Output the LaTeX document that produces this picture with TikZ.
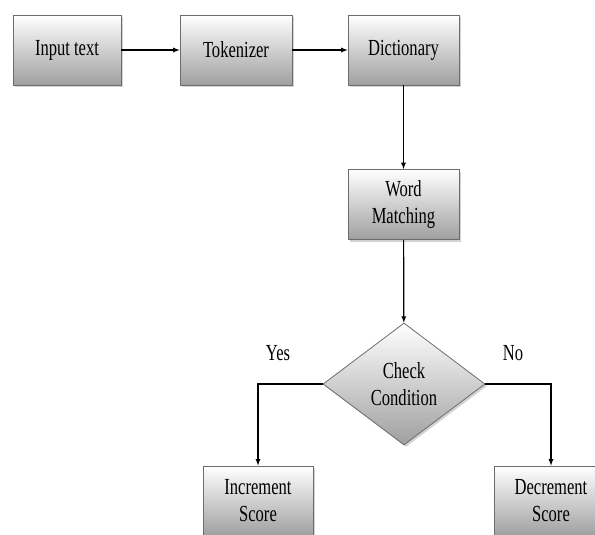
\documentclass[tikz,border=0pt]{standalone}
\usepackage{fontspec}
\setmainfont[FakeStretch=0.72]{Liberation Serif}
\usepackage{tikz}
\usetikzlibrary{arrows,shapes.geometric,shadows}

\tikzset{
  stage/.style={rectangle, draw=gray!85!black, line width=0.8pt,
    top color=white, bottom color=gray!75, drop shadow={opacity=0.35, shadow xshift=2pt, shadow yshift=-2pt},
    minimum width=111pt, minimum height=70pt, align=center, font=\fontsize{23}{27}\selectfont},
  test/.style={diamond, draw=gray!85!black, line width=0.8pt, inner sep=0pt,
    top color=white, bottom color=gray!75, drop shadow={opacity=0.35, shadow xshift=2pt, shadow yshift=-2pt},
    minimum width=162pt, minimum height=122pt, align=center, font=\fontsize{23}{27}\selectfont},
  lbl/.style={font=\fontsize{23}{27}\selectfont}
}

\begin{document}
\begin{tikzpicture}[x=1pt, y=-1pt, line width=1.2pt, >=latex]
            \clip (0,0) rectangle (595,535);
            \node[stage, minimum width=108pt] (input) at (67, 50) {Input text};
            \node[stage, minimum width=112pt] (tok) at (236, 50) {Tokenizer};
            \node[stage] (dict) at (403.5, 50) {Dictionary};
            \node[stage] (match) at (403.5, 204.5) {Word\\Matching};
            \node[test] (check) at (404, 384) {Check\\Condition};
            \node[stage, minimum width=110pt] (inc) at (258, 501) {Increment\\Score};
            \node[stage, minimum width=114pt] (dec) at (551, 501) {Decrement\\Score};
            \node[lbl] (yes) at (278, 353) {Yes};
            \node[lbl] (no) at (513, 353) {No};

            \draw[->] (input) -- (tok);
            \draw[->] (tok) -- (dict);
            \draw[->] (dict) -- (match);
            \draw[->] (match) -- (check);
            \draw[->] (check.west) -| (inc);
            \draw[->] (check.east) -| (dec);
         \end{tikzpicture}
\end{document}
